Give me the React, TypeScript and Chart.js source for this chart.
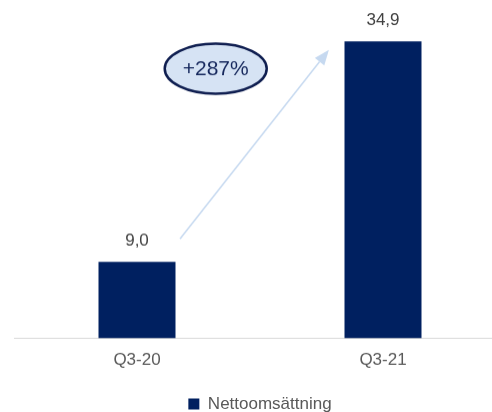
import React, { useEffect, useRef } from 'react';
import { Chart, registerables } from 'chart.js';
Chart.register(...registerables);

const categories = ['Q3-20', 'Q3-21'];
const values = [9.0, 34.9];
const valueLabels = ['9,0', '34,9'];
const seriesName = 'Nettoomsättning';
const growthLabel = '+287%';

const NAVY = '#002060';
const FONT = '"Liberation Sans", Arial, sans-serif';

export default function App() {
  const ref = useRef<HTMLCanvasElement>(null);
  useEffect(() => {
    if (!ref.current) return;
    const overlay = {
      id: 'overlay',
      afterDatasetsDraw(chart: any) {
        const ctx = chart.ctx;
        const xs = chart.scales.x;
        const ys = chart.scales.y;
        ctx.save();
        // value labels
        ctx.font = `17px ${FONT}`;
        ctx.fillStyle = '#404040';
        ctx.textAlign = 'center';
        ctx.textBaseline = 'middle';
        const meta = chart.getDatasetMeta(0);
        meta.data.forEach((bar: any, i: number) => {
          ctx.fillText(valueLabels[i], bar.x, bar.y - 21);
        });
        // arrow
        const x0 = xs.getPixelForValue(0.175);
        const y0 = ys.getPixelForValue(11.7);
        const x1 = xs.getPixelForValue(0.78);
        const y1 = ys.getPixelForValue(33.9);
        const ang = Math.atan2(y1 - y0, x1 - x0);
        const headLen = 15;
        const headW = 6;
        const bx = x1 - headLen * Math.cos(ang);
        const by = y1 - headLen * Math.sin(ang);
        ctx.strokeStyle = '#C6D9F0';
        ctx.fillStyle = '#C6D9F0';
        ctx.lineWidth = 1.5;
        ctx.beginPath();
        ctx.moveTo(x0, y0);
        ctx.lineTo(bx, by);
        ctx.stroke();
        ctx.beginPath();
        ctx.moveTo(x1, y1);
        ctx.lineTo(bx + headW * Math.sin(ang), by - headW * Math.cos(ang));
        ctx.lineTo(bx - headW * Math.sin(ang), by + headW * Math.cos(ang));
        ctx.closePath();
        ctx.fill();
        // ellipse
        const ex = xs.getPixelForValue(0.32);
        const ey = ys.getPixelForValue(31.7);
        ctx.beginPath();
        ctx.ellipse(ex, ey, 51, 25, 0, 0, Math.PI * 2);
        ctx.fillStyle = '#D6E3F4';
        ctx.fill();
        ctx.lineWidth = 2.5;
        ctx.strokeStyle = '#0F1E50';
        ctx.stroke();
        ctx.fillStyle = '#15275C';
        ctx.font = `21px ${FONT}`;
        ctx.textAlign = 'center';
        ctx.textBaseline = 'middle';
        ctx.fillText(growthLabel, ex, ey + 1);
        ctx.restore();
      },
    };
    const chart = new Chart(ref.current, {
      type: 'bar',
      data: {
        labels: categories,
        datasets: [
          {
            label: seriesName,
            data: values,
            backgroundColor: NAVY,
            borderWidth: 0,
            categoryPercentage: 1,
            barPercentage: 0.313,
          },
        ],
      },
      options: {
        responsive: true,
        maintainAspectRatio: false,
        animation: false,
        layout: { padding: { left: 14, right: 22, top: 15, bottom: 0 } },
        scales: {
          x: {
            grid: { display: false, drawTicks: false },
            border: { display: true, color: '#D9D9D9', width: 1 },
            ticks: { color: '#595959', font: { family: FONT, size: 17 }, padding: 12 },
          },
          y: {
            display: false,
            min: 0,
            max: 38,
          },
        },
        plugins: {
          legend: {
            position: 'bottom',
            labels: {
              boxWidth: 11,
              boxHeight: 11,
              color: '#595959',
              font: { family: FONT, size: 17 },
              padding: 12.5,
            },
          },
          tooltip: { enabled: false },
        },
      },
      plugins: [overlay],
    });
    return () => chart.destroy();
  }, []);
  return (
    <div style={{ position: 'fixed', left: 0, top: 0, width: 492, height: 412, overflow: 'hidden', background: '#fff' }}>
      <div style={{ position: 'relative', width: 528, height: 421.5 }}>
        <canvas ref={ref} />
      </div>
    </div>
  );
}
